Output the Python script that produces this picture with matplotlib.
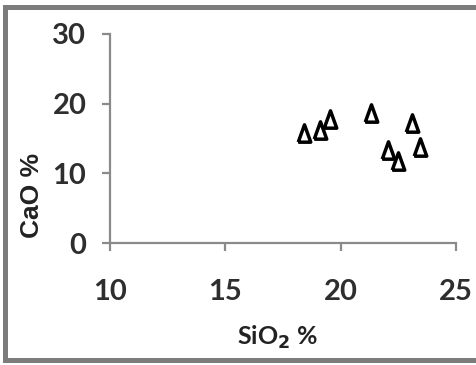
import matplotlib
matplotlib.use("Agg")
import matplotlib.pyplot as plt
from matplotlib.lines import Line2D

# SiO2 vs CaO contents (wt %)
sio2 = [18.4, 19.1, 19.55, 21.3, 22.05, 22.5, 23.1, 23.45]
cao = [15.8, 16.2, 17.8, 18.6, 13.3, 11.8, 17.2, 13.8]

x_ticks = [10, 15, 20, 25]
y_ticks = [0, 10, 20, 30]

plt.rcParams['font.family'] = ['Lato', 'DejaVu Sans']

fig = plt.figure(figsize=(4.76, 3.65), dpi=100)
ax = fig.add_axes([0.231, 0.334, 0.727, 0.573])

# tall open triangle
tri = [(-0.72, -1.0), (0.72, -1.0), (0.0, 1.0), (-0.72, -1.0)]
ax.plot(sio2, cao, linestyle='none', marker=tri, markersize=12.5,
        markerfacecolor='white', markeredgecolor='black', markeredgewidth=2.5)

ax.set_xlim(10, 25)
ax.set_ylim(0, 30)
ax.set_xticks(x_ticks)
ax.set_yticks(y_ticks)

for side in ('top', 'right'):
    ax.spines[side].set_visible(False)
for side in ('left', 'bottom'):
    ax.spines[side].set_color('#8a8a8a')
    ax.spines[side].set_linewidth(1.6)

ax.tick_params(axis='both', colors='#8a8a8a', width=1.6, length=6,
               labelsize=21, labelcolor='#2e2e2e')
ax.tick_params(axis='x', pad=20)
ax.tick_params(axis='y', pad=11)
for lbl in ax.get_xticklabels() + ax.get_yticklabels():
    lbl.set_fontweight('bold')

ax.set_xlabel('SiO$_\\mathbf{2}$ %', fontsize=18, fontweight='bold', color='#222222')
ax.set_ylabel('CaO %', fontsize=19, fontweight='bold', color='#222222',
              family=['Liberation Sans', 'DejaVu Sans'])
ax.xaxis.set_label_coords(0.483, -0.385)
ax.yaxis.set_label_coords(-0.19, 0.227)

# frame around the whole figure (left, top, bottom edges)
frame_kw = dict(color='#7c7c7c', linewidth=3.6, transform=fig.transFigure)
fig.add_artist(Line2D([0.0095, 0.0095], [0.014, 0.981], **frame_kw))
fig.add_artist(Line2D([0.0095, 1.0], [0.981, 0.981], **frame_kw))
fig.add_artist(Line2D([0.0095, 1.0], [0.014, 0.014], **frame_kw))

fig.savefig('out.png', dpi=100)
